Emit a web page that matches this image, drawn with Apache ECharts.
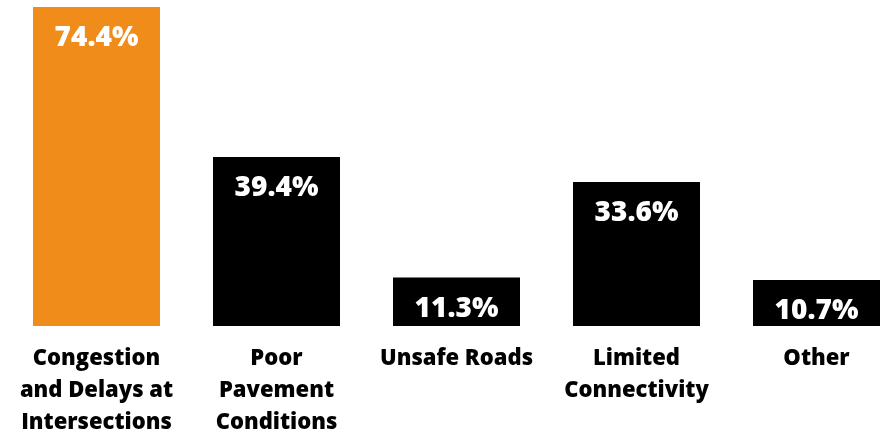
<!DOCTYPE html>
<html><head><meta charset="utf-8">
<script src="https://cdn.jsdelivr.net/npm/echarts@6/dist/echarts.min.js"></script>
<style>html,body{margin:0;padding:0;background:#fff}#c{width:884px;height:438px}</style>
</head><body><div id="c"></div>
<script>
const categories = ["Congestion\nand Delays at\nIntersections", "Poor\nPavement\nConditions", "Unsafe Roads", "Limited\nConnectivity", "Other"];
const values = [74.4, 39.4, 11.3, 33.6, 10.7];
const barColors = ["#EF8C1A", "#000000", "#000000", "#000000", "#000000"];
const chart = echarts.init(document.getElementById('c'));
chart.setOption({
  animation: false,
  grid: {left: 6.5, width: 900, top: 7, height: 319, outerBoundsMode: 'none', containLabel: false},
  xAxis: {type: 'category', data: categories,
    axisLine: {show: false}, axisTick: {show: false},
    axisLabel: {interval: 0, margin: 17, color: '#000', fontFamily: 'Open Sans', fontWeight: 800, fontSize: 22, lineHeight: 32}},
  yAxis: {type: 'value', min: 0, max: 74.4, show: false, splitLine: {show: false}},
  series: [{type: 'bar', barWidth: 127,
    data: values.map((v, i) => ({value: v, itemStyle: {color: barColors[i]}})),
    label: {show: true, position: 'insideTop', distance: 17, color: '#fff', fontFamily: 'Open Sans', fontWeight: 800, fontSize: 28,
      formatter: p => p.value.toFixed(1) + '%'}}]
});
</script></body></html>
